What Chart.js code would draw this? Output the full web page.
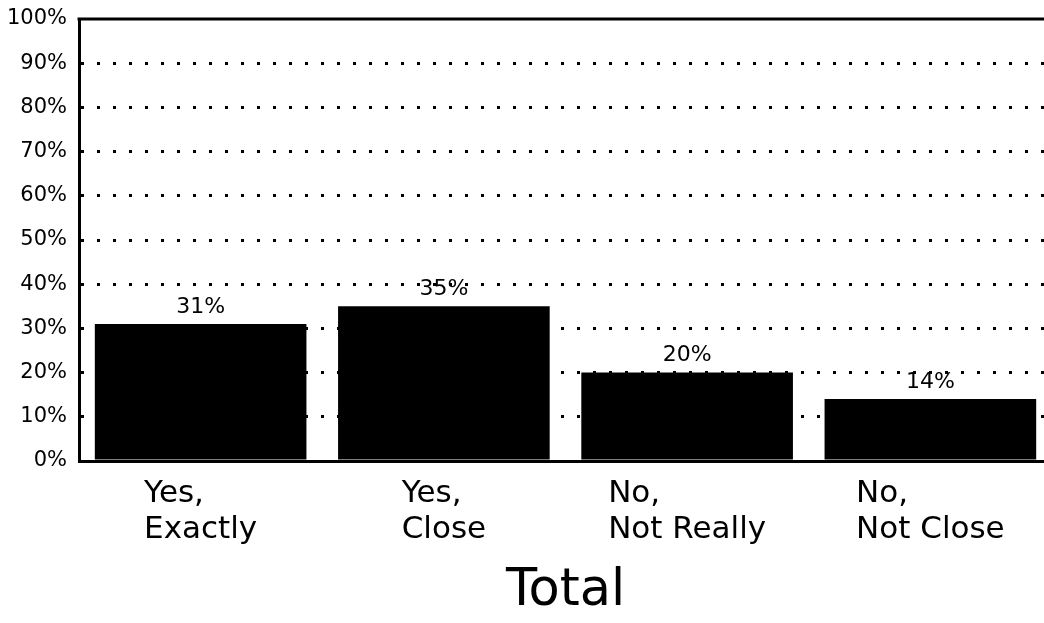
<!DOCTYPE html>
<html>
<head>
<meta charset="utf-8">
<script src="https://cdn.jsdelivr.net/npm/chart.js@4/dist/chart.umd.min.js"></script>
<style>
  html, body { margin: 0; padding: 0; background: #fff; overflow: hidden; }
  #wrap { width: 1052px; height: 623px; }
</style>
</head>
<body>
<div id="wrap"><canvas id="chart"></canvas></div>
<script>
// Dados
const categories = [['Yes,', 'Exactly'], ['Yes,', 'Close'], ['No,', 'Not Really'], ['No,', 'Not Close']];
const values = [31, 35, 20, 14];
const yMax = 100;
const yStep = 10;
const title = 'Total';

const FONT = '"DejaVu Sans", sans-serif';

// Rótulos das barras, linha superior e rótulos das categorias
const labelsPlugin = {
  id: 'labelsPlugin',
  afterDatasetsDraw(chart) {
    const { ctx } = chart;
    const meta = chart.getDatasetMeta(0);
    ctx.save();
    ctx.font = '22px ' + FONT;
    ctx.fillStyle = '#000';
    ctx.textAlign = 'center';
    ctx.textBaseline = 'middle';
    meta.data.forEach((bar, i) => {
      ctx.fillText(values[i] + '%', bar.x, bar.y - 17);
    });
    ctx.restore();
  },
  afterDraw(chart) {
    const { ctx, chartArea } = chart;
    const xScale = chart.scales.x;
    ctx.save();
    ctx.strokeStyle = '#000';
    ctx.lineWidth = 3;
    ctx.beginPath();
    ctx.moveTo(chartArea.left - 1.5, chartArea.top);
    ctx.lineTo(chartArea.right, chartArea.top);
    ctx.stroke();

    ctx.font = '31px ' + FONT;
    ctx.fillStyle = '#000';
    ctx.textAlign = 'left';
    ctx.textBaseline = 'middle';
    categories.forEach((lines, i) => {
      const cx = xScale.getPixelForValue(i);
      const w = Math.max(...lines.map(l => ctx.measureText(l).width));
      lines.forEach((l, j) => {
        ctx.fillText(l, cx - w / 2, chartArea.bottom + 33 + j * 36);
      });
    });
    ctx.restore();
  }
};

new Chart(document.getElementById('chart'), {
  type: 'bar',
  data: {
    labels: categories.map(c => c.join(' ')),
    datasets: [{
      data: values,
      backgroundColor: '#000',
      borderWidth: 0,
      barPercentage: 0.87,
      categoryPercentage: 1
    }]
  },
  options: {
    responsive: true,
    maintainAspectRatio: false,
    animation: false,
    layout: { padding: { top: 19, right: 0, bottom: 0, left: 0 } },
    plugins: {
      legend: { display: false },
      tooltip: { enabled: false }
    },
    scales: {
      x: {
        grid: { display: false, drawTicks: false },
        border: { display: true, color: '#000', width: 3 },
        ticks: { display: false },
        title: {
          display: true,
          text: title,
          color: '#000',
          font: { family: FONT, size: 51, lineHeight: 1 },
          padding: { top: 0, bottom: 6 }
        },
        afterFit(scale) { scale.height = 162; }
      },
      y: {
        min: 0,
        max: yMax,
        ticks: {
          stepSize: yStep,
          color: '#000',
          padding: 12,
          font: { family: FONT, size: 21 },
          callback: v => v + '%'
        },
        grid: {
          color: c => (c.tick && c.tick.value === yMax) ? 'rgba(0,0,0,0)' : '#000',
          lineWidth: 3,
          drawTicks: false
        },
        border: { display: true, color: '#000', width: 3, dash: [3, 13] },
        afterFit(scale) {
          scale.width = 79;
          scale.paddingTop = 0;
        }
      }
    }
  },
  plugins: [labelsPlugin]
});
</script>
</body>
</html>
